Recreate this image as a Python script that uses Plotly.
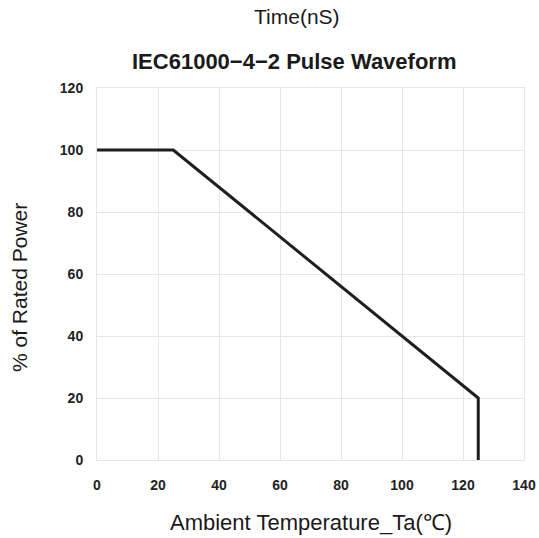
import plotly.graph_objects as go

temps = [0, 25, 125, 125]
power = [100, 100, 20, 0]
x_ticks = [0, 20, 40, 60, 80, 100, 120, 140]
y_ticks = [0, 20, 40, 60, 80, 100, 120]

title_top = "Time(nS)"
title_main = "IEC61000−4−2 Pulse Waveform"
x_label = "Ambient Temperature_Ta(℃)"
y_label = "% of Rated Power"

fig = go.Figure()
fig.add_trace(go.Scatter(x=temps, y=power, mode="lines",
                         line=dict(color="#1f1f1f", width=3), showlegend=False))

grid = "#e6e6e6"
tickfont = dict(size=14, family="Liberation Sans, Arial", weight="bold", color="#222")
fig.update_layout(
    width=539, height=538,
    margin=dict(l=97, r=15, t=88, b=78),
    paper_bgcolor="white", plot_bgcolor="white",
    font=dict(family="Liberation Sans, Arial, sans-serif", color="#1a1a1a"),
    xaxis=dict(range=[0, 140], tickvals=x_ticks, showgrid=True, gridcolor=grid,
               gridwidth=1, zeroline=False, showline=True, linecolor=grid, mirror=True,
               ticks="outside", ticklen=12, tickcolor="rgba(0,0,0,0)",
               tickfont=tickfont, automargin=False),
    yaxis=dict(range=[0, 120], tickvals=y_ticks, showgrid=True, gridcolor=grid,
               gridwidth=1, zeroline=False, showline=True, linecolor=grid, mirror=True,
               ticks="outside", ticklen=10, tickcolor="rgba(0,0,0,0)",
               tickfont=tickfont, automargin=False),
)

# paper refs are relative to the plot area; convert pixel positions
pl, pr, pt, pb = 97, 524, 88, 460
def add(text, xp, yp, size, angle=0, bold=False):
    fig.add_annotation(text=f"<b>{text}</b>" if bold else text,
                       x=(xp - pl) / (pr - pl), y=(pb - yp) / (pb - pt),
                       xref="paper", yref="paper", xanchor="center", yanchor="middle",
                       showarrow=False, textangle=angle,
                       font=dict(size=size, color="#1a1a1a"))

add(title_top, 297, 17, 21)
add(title_main, 294, 61, 22, bold=True)
add(x_label, 311, 522, 22)
add(y_label, 19, 288, 21, angle=-90)

fig.write_html("out.html")
